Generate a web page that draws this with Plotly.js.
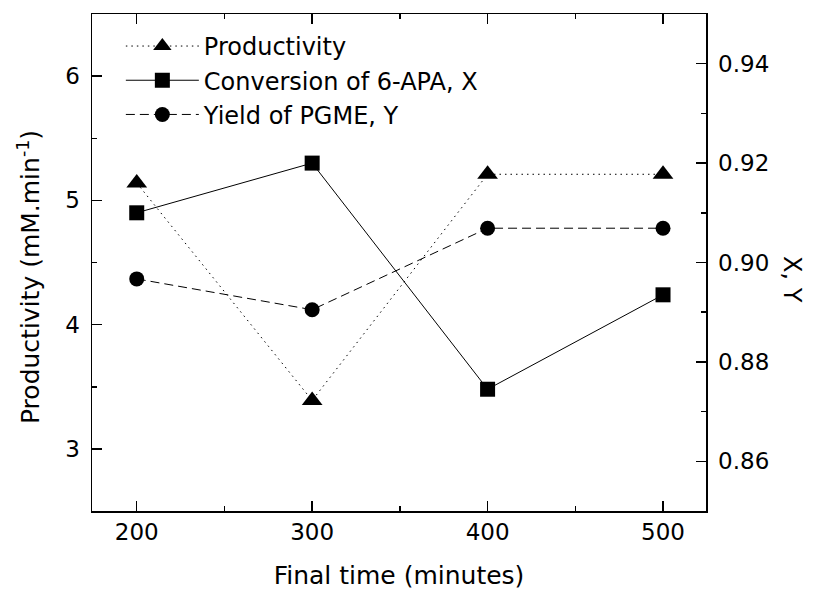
<!DOCTYPE html>
<html>
<head>
<meta charset="utf-8">
<script src="https://cdn.plot.ly/plotly-3.0.1.min.js"></script>
<style>
  html, body { margin: 0; padding: 0; background: #fff; }
  #chart { width: 813px; height: 599px; }
</style>
</head>
<body>
<div id="chart"></div>
<script>
// Final time of the run (minutes)
const finalTime = [200, 300, 400, 500];
// Productivity (mM.min-1), left axis
const productivity = [5.14, 3.39, 5.21, 5.21];
// Conversion of 6-APA, X (right axis)
const conversionX = [0.910, 0.920, 0.8745, 0.8935];
// Yield of PGME, Y (right axis)
const yieldY = [0.8967, 0.8905, 0.9069, 0.9069];

const xTicks = [200, 300, 400, 500];
const leftTicks = [3, 4, 5, 6];
const rightTicks = [0.86, 0.88, 0.90, 0.92, 0.94];

const FONT = 'DejaVu Sans, Liberation Sans, Arial, sans-serif';
const INK = '#000';

const traces = [
  {
    x: finalTime, y: productivity, name: 'Productivity',
    type: 'scatter', mode: 'lines+markers', yaxis: 'y',
    line: { color: INK, width: 1, dash: '1.5px,4px' },
    marker: { symbol: 'triangle-up', size: 18, color: INK }
  },
  {
    x: finalTime, y: conversionX, name: 'Conversion of 6-APA, X',
    type: 'scatter', mode: 'lines+markers', yaxis: 'y2',
    line: { color: INK, width: 1 },
    marker: { symbol: 'square', size: 15, color: INK }
  },
  {
    x: finalTime, y: yieldY, name: 'Yield of PGME, Y',
    type: 'scatter', mode: 'lines+markers', yaxis: 'y2',
    line: { color: INK, width: 1, dash: '9px,5px' },
    marker: { symbol: 'circle', size: 15, color: INK }
  }
];

const axisCommon = {
  showline: true, linecolor: INK, linewidth: 1.5,
  ticks: 'inside', ticklen: 10, tickwidth: 1.5, tickcolor: INK,
  showgrid: false, zeroline: false,
  tickfont: { family: FONT, size: 23, color: INK }
};

const layout = {
  width: 813, height: 599,
  margin: { l: 92, r: 107, t: 14, b: 88, pad: 0 },
  paper_bgcolor: '#fff', plot_bgcolor: '#fff',
  font: { family: FONT, color: INK },
  showlegend: true,
  legend: {
    x: 0.047, y: 0.98, xanchor: 'left', yanchor: 'top',
    bgcolor: 'rgba(0,0,0,0)', borderwidth: 0,
    font: { family: FONT, size: 24, color: INK },
    itemwidth: 73, tracegroupgap: 0
  },
  xaxis: Object.assign({}, axisCommon, {
    range: [174.5, 524.5],
    tickvals: xTicks, ticktext: xTicks.map(String),
    mirror: 'ticks', ticklabelstandoff: 0,
    minor: { ticks: 'inside', ticklen: 5, tickwidth: 1.5, tickcolor: INK, dtick: 50, tick0: 0 },
    title: { text: 'Final time (minutes)', font: { family: FONT, size: 25, color: INK }, standoff: 22 }
  }),
  yaxis: Object.assign({}, axisCommon, {
    range: [2.5, 6.5],
    tickvals: leftTicks, ticktext: leftTicks.map(String),
    ticklabelstandoff: 6,
    minor: { ticks: 'inside', ticklen: 5, tickwidth: 1.5, tickcolor: INK, dtick: 0.5, tick0: 0 }
  }),
  yaxis2: Object.assign({}, axisCommon, {
    overlaying: 'y', side: 'right',
    range: [0.85, 0.95],
    tickvals: rightTicks, ticktext: rightTicks.map(v => v.toFixed(2)),
    ticklabelstandoff: 6,
    minor: { ticks: 'inside', ticklen: 5, tickwidth: 1.5, tickcolor: INK, dtick: 0.01, tick0: 0 }
  }),
  annotations: [
    {
      // left axis title
      text: 'Productivity (mM.min<sup>-1</sup>)', textangle: -90, showarrow: false,
      xref: 'paper', yref: 'paper', x: -0.1026, y: 0.4708,
      xanchor: 'center', yanchor: 'middle',
      font: { family: FONT, size: 25, color: INK }
    },
    {
      // right axis title
      text: 'X, Y', textangle: 90, showarrow: false,
      xref: 'paper', yref: 'paper', x: 1.14, y: 0.465,
      xanchor: 'center', yanchor: 'middle',
      font: { family: FONT, size: 24, color: INK }
    }
  ]
};

Plotly.newPlot('chart', traces, layout, { displayModeBar: false, staticPlot: true });
</script>
</body>
</html>
